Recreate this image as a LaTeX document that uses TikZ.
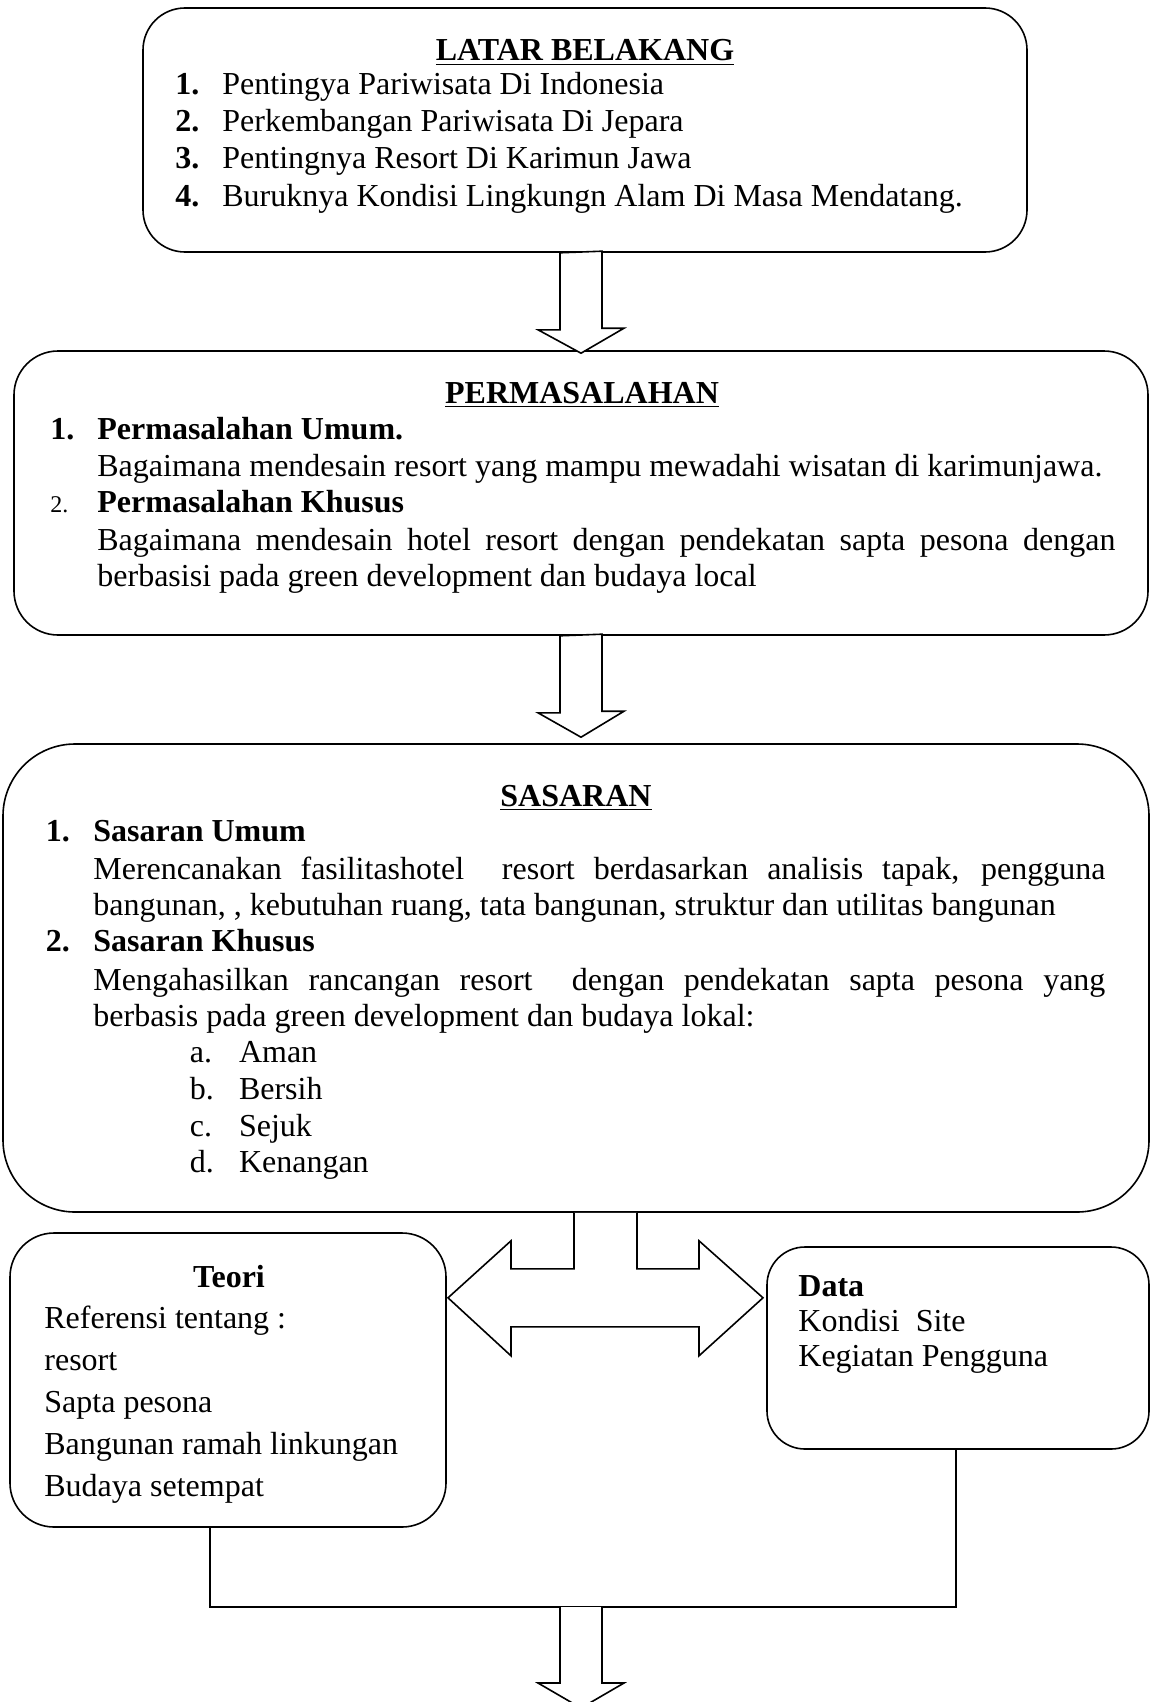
\documentclass[tikz,border=0pt]{standalone}
\usepackage{fontspec}
\setmainfont{Liberation Serif}
\usetikzlibrary{calc}

\tikzset{
  box/.style={draw, line width=.8pt, inner sep=0pt},
  txt/.style={anchor=base west, inner sep=0pt, font=\fontsize{16}{18}\selectfont},
  bftxt/.style={txt, font=\fontsize{16}{18}\selectfont\bfseries},
  head/.style={anchor=base, inner sep=0pt, font=\fontsize{16}{18}\selectfont\bfseries},
  blk/.style={draw, line width=.8pt, fill=white, line join=miter}
}

\begin{document}
\begin{tikzpicture}[x=.5pt, y=-.5pt]
\useasboundingbox (0,0) rectangle (1151,1702);
\clip (0,0) rectangle (1151,1702);

% boxes
\node[box, minimum width=442pt, minimum height=122pt, rounded corners=21pt] (latar) at (585,130) {};
\node[box, minimum width=567pt, minimum height=142pt, rounded corners=22pt] (masalah) at (581,493) {};
\node[box, minimum width=573pt, minimum height=234pt, rounded corners=36pt] (sasaran) at (576,978) {};
\node[box, minimum width=218pt, minimum height=147pt, rounded corners=22pt] (teori) at (228,1380) {};
\node[box, minimum width=191pt, minimum height=101pt, rounded corners=19pt] (data) at (958,1348) {};

% latar belakang
\node[head] (latart) at (585,61) {\underline{LATAR BELAKANG}};
\foreach \t [count=\i] in {Pentingya Pariwisata Di Indonesia, Perkembangan Pariwisata Di Jepara,
    Pentingnya Resort Di Karimun Jawa, Buruknya Kondisi Lingkungn Alam Di Masa Mendatang.}{
  \node[bftxt] (ln\i) at (175,58+37*\i) {\i.};
  \node[txt] (lt\i) at (222,58+37*\i) {\t};
}

% permasalahan
\node[head] (masalaht) at (582,403) {\underline{PERMASALAHAN}};
\node[bftxt] (mn1) at (50,439) {1.};
\node[bftxt] (mh1) at (97,439) {Permasalahan Umum.};
\node[txt] (mt1) at (97,476.7) {Bagaimana mendesain resort yang mampu mewadahi wisatan di karimunjawa.};
\node[txt, font=\fontsize{12}{14}\selectfont] (mn2) at (50,512.7) {2.};
\node[bftxt] (mh2) at (97,512.7) {Permasalahan Khusus};
\node[txt] (mt2) at (97,550) {\makebox[509pt][s]{Bagaimana mendesain hotel resort dengan pendekatan sapta pesona dengan}};
\node[txt] (mt3) at (97,586.7) {berbasisi pada green development dan budaya local};

% sasaran
\node[head] (sasarant) at (576,806.7) {\underline{SASARAN}};
\node[bftxt] (sn1) at (45.5,841.7) {1.};
\node[bftxt] (sh1) at (93,841.7) {Sasaran Umum};
\node[txt] (st1) at (93,879) {\makebox[506pt][s]{Merencanakan fasilitashotel~ resort berdasarkan analisis tapak, pengguna}};
\node[txt] (st2) at (93,915) {bangunan, , kebutuhan ruang, tata bangunan, struktur dan utilitas bangunan};
\node[bftxt] (sn2) at (45.5,951.7) {2.};
\node[bftxt] (sh2) at (93,951.7) {Sasaran Khusus};
\node[txt] (st3) at (93,990) {\makebox[506pt][s]{Mengahasilkan rancangan resort~ dengan pendekatan sapta pesona yang}};
\node[txt] (st4) at (93,1026.7) {berbasis pada green development dan budaya lokal:};
\foreach \l/\t [count=\i] in {a/Aman, b/Bersih, c/Sejuk, d/Kenangan}{
  \node[txt] (sa\i) at (189.4,1026+36.7*\i) {\l.};
  \node[txt] (sb\i) at (238.6,1026+36.7*\i) {\t};
}

% teori
\node[head] (teorit) at (229,1287.7) {Teori};
\foreach \t [count=\i] in {Referensi tentang :, resort, Sapta pesona, Bangunan ramah linkungan, Budaya setempat}
  \node[txt] (tt\i) at (44,1286+42*\i) {\t};

% data
\node[bftxt] (datat) at (798,1296) {Data};
\node[txt] (dt1) at (798,1331.7) {Kondisi~ Site};
\node[txt] (dt2) at (798,1366.7) {Kegiatan Pengguna};

% block arrows
\draw[blk] ($(latar.south -| masalah.north)+(-21,0)$) -- ++(0,77) -- ++(-22,0)
    -- ($(masalah.north)+(0,3)$) -- ++(43,-25) -- ++(-22,0) -- ++(0,-77) -- cycle;
\draw[blk] ($(masalah.south)+(-21,0)$) -- ++(0,77) -- ++(-22,0)
    -- ($(masalah.south |- sasaran.north)+(0,-6)$) -- ++(43,-26) -- ++(-22,0) -- ++(0,-77) -- cycle;

% double arrow teori <-> data
\draw[blk] ($(sasaran.south)+(-2,0)$) -- ++(0,56) -- ++(-63,0) -- ++(0,-28) -- ++(-63,57)
    -- ++(63,58) -- ++(0,-29) -- ++(188,0) -- ++(0,29) -- ++(64,-58) -- ++(-64,-57)
    -- ++(0,28) -- ++(-62,0) -- ++(0,-56);

% join to the last arrow
\coordinate (join) at (581,1607);
\draw[line width=.8pt] (teori.south -| 210,0) |- (join) -| (data.south -| 956,0);
\draw[blk] ($(join)+(-21,0)$) -- ++(0,76) -- ++(-22,0) -- ++(43,25) -- ++(43,-25)
    -- ++(-22,0) -- ++(0,-76);
\end{tikzpicture}
\end{document}
